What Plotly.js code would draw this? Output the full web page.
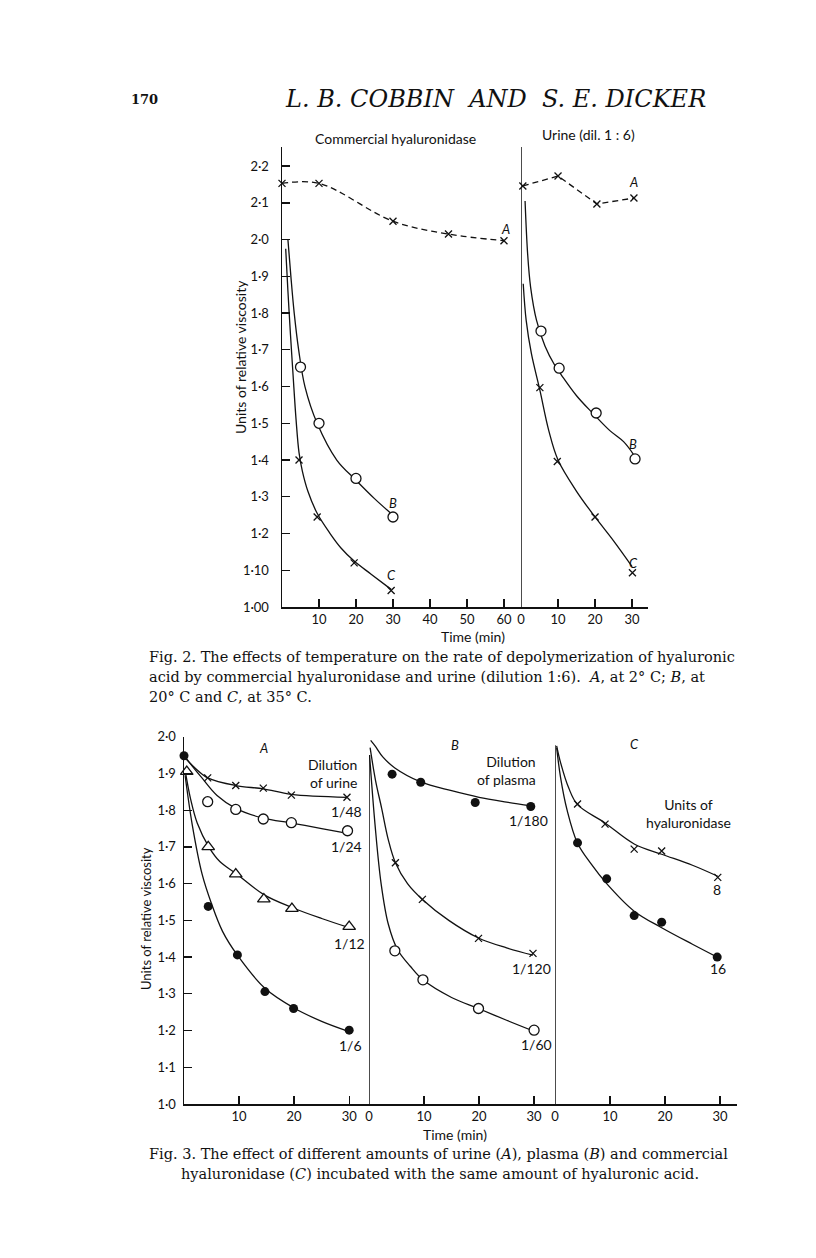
<!DOCTYPE html>
<html>
<head>
<meta charset="utf-8">
<script src="https://cdn.plot.ly/plotly-3.0.1.min.js"></script>
<style>
  html, body { margin: 0; padding: 0; background: #fff; }
  #chart { width: 816px; height: 1258px; }
</style>
</head>
<body>
<div id="chart"></div>
<script>
// ---------------- DATA ----------------
// Fig. 2, left panel: commercial hyaluronidase (time, min; relative viscosity)
const f2L_A_t = [0, 10, 30, 45, 60];
const f2L_A_v = [2.153, 2.153, 2.05, 2.015, 1.997];
const f2L_B_t = [5, 10, 20, 30];
const f2L_B_v = [1.653, 1.50, 1.35, 1.245];
const f2L_Bfit_t = [1.6, 2.4, 3.3, 4.5, 6.2, 9.5, 14.8, 20, 25, 30];
const f2L_Bfit_v = [2.0, 1.9, 1.8, 1.7, 1.6, 1.5, 1.4, 1.345, 1.295, 1.25];
const f2L_C_t = [4.6, 9.5, 19.5, 29.5];
const f2L_C_v = [1.40, 1.245, 1.12, 1.045];
const f2L_Cfit_t = [1.0, 1.6, 2.3, 3.0, 3.8, 4.6, 5.5, 7, 9.5, 13, 16, 19.5, 24, 29.5];
const f2L_Cfit_v = [1.975, 1.86, 1.74, 1.63, 1.51, 1.42, 1.37, 1.315, 1.255, 1.2, 1.16, 1.125, 1.09, 1.048];

// Fig. 2, right panel: urine (dil. 1:6)
const f2R_A_t = [0.5, 10, 20.5, 30.5];
const f2R_A_v = [2.146, 2.173, 2.097, 2.113];
const f2R_B_t = [5.4, 10.3, 20.3, 30.8];
const f2R_B_v = [1.751, 1.65, 1.528, 1.403];
const f2R_Bfit_t = [1.1, 1.8, 2.6, 4.2, 6.5, 9, 11, 15, 19.4, 24, 27.7, 30.4];
const f2R_Bfit_v = [2.105, 1.96, 1.87, 1.78, 1.71, 1.66, 1.63, 1.575, 1.527, 1.48, 1.45, 1.415];
const f2R_C_t = [5.1, 9.8, 20, 30.1];
const f2R_C_v = [1.597, 1.396, 1.245, 1.093];
const f2R_Cfit_t = [0.6, 1.4, 2.8, 5.1, 7.5, 10, 15, 20, 25, 30];
const f2R_Cfit_v = [1.88, 1.78, 1.69, 1.59, 1.48, 1.40, 1.315, 1.245, 1.18, 1.11];

// Fig. 3, panel A: dilution of urine
const f3A_start_t = [0];
const f3A_start_v = [1.948];
const f3A_48_t = [4.3, 9.4, 14.4, 19.5, 29.6];
const f3A_48_v = [1.888, 1.867, 1.86, 1.841, 1.835];
const f3A_48fit_t = [0, 2, 4.3, 9.4, 14.4, 19.5, 29.6];
const f3A_48fit_v = [1.945, 1.915, 1.888, 1.867, 1.858, 1.843, 1.835];
const f3A_24_t = [4.3, 9.4, 14.4, 19.5, 29.7];
const f3A_24_v = [1.823, 1.802, 1.776, 1.766, 1.744];
const f3A_24fit_t = [0.2, 1.5, 3.3, 6, 9.4, 14.4, 19.5, 25, 29.7];
const f3A_24fit_v = [1.945, 1.92, 1.887, 1.84, 1.805, 1.778, 1.765, 1.75, 1.737];
const f3A_12_t = [0.5, 4.4, 9.4, 14.5, 19.6, 30];
const f3A_12_v = [1.905, 1.70, 1.626, 1.558, 1.532, 1.483];
const f3A_12fit_t = [0.3, 1.2, 2.4, 4.5, 6.5, 9.4, 14.5, 19.6, 25, 30];
const f3A_12fit_v = [1.90, 1.83, 1.765, 1.70, 1.66, 1.628, 1.57, 1.535, 1.505, 1.48];
const f3A_6_t = [4.4, 9.7, 14.7, 19.9, 30];
const f3A_6_v = [1.538, 1.406, 1.306, 1.26, 1.201];
const f3A_6fit_t = [0.2, 1.5, 3.3, 5.0, 7, 9.7, 14.7, 19.9, 25, 30];
const f3A_6fit_v = [1.895, 1.76, 1.625, 1.545, 1.47, 1.405, 1.315, 1.262, 1.225, 1.197];

// Fig. 3, panel B: dilution of plasma
const f3B_start_t = [-0.6];
const f3B_start_v = [2.005];
const f3B_180_t = [4.2, 9.4, 19.3, 29.4];
const f3B_180_v = [1.898, 1.876, 1.821, 1.81];
const f3B_180fit_t = [0.3, 1.1, 2.5, 4.7, 9.4, 15, 20, 25, 29.4];
const f3B_180fit_v = [1.99, 1.975, 1.945, 1.915, 1.877, 1.853, 1.835, 1.822, 1.812];
const f3B_120_t = [4.8, 9.7, 19.9, 29.8];
const f3B_120_v = [1.657, 1.557, 1.451, 1.41];
const f3B_120fit_t = [0.2, 1.2, 2.3, 3.5, 4.8, 7, 9.7, 14.5, 19.9, 25, 29.8];
const f3B_120fit_v = [1.97, 1.88, 1.805, 1.72, 1.657, 1.6, 1.557, 1.5, 1.452, 1.425, 1.405];
const f3B_60_t = [4.7, 9.8, 19.9, 30];
const f3B_60_v = [1.417, 1.338, 1.26, 1.201];
const f3B_60fit_t = [0.1, 1.1, 2.2, 3.5, 5.2, 7.5, 9.8, 15, 19.9, 25, 30];
const f3B_60fit_v = [1.95, 1.76, 1.60, 1.49, 1.42, 1.375, 1.338, 1.29, 1.26, 1.228, 1.198];

// Fig. 3, panel C: units of hyaluronidase
const f3C_start_t = [-1];
const f3C_start_v = [1.991];
const f3C_8_t = [4.1, 9.1, 14.4, 19.4, 29.6];
const f3C_8_v = [1.817, 1.762, 1.694, 1.689, 1.617];
const f3C_8fit_t = [0.3, 1, 2.5, 4.1, 9.1, 14.4, 19.4, 25, 29.6];
const f3C_8fit_v = [1.975, 1.93, 1.86, 1.815, 1.765, 1.708, 1.68, 1.65, 1.62];
const f3C_16_t = [4.1, 9.4, 14.4, 19.4, 29.5];
const f3C_16_v = [1.711, 1.613, 1.513, 1.495, 1.40];
const f3C_16fit_t = [0.3, 1, 2.2, 4.1, 6.5, 9.4, 14.4, 19.4, 25, 29.5];
const f3C_16fit_v = [1.97, 1.89, 1.80, 1.71, 1.655, 1.60, 1.525, 1.48, 1.435, 1.40];

// Height of the vertical lines at time 0 in Fig. 3 panels B and C
const f3_panelTop = { B: 1.946, C: 1.977 };

// Tick labels
const f2_yTicks = [1.0, 1.1, 1.2, 1.3, 1.4, 1.5, 1.6, 1.7, 1.8, 1.9, 2.0, 2.1, 2.2];
const f2_yTickText = ['1·00', '1·10', '1·2', '1·3', '1·4', '1·5', '1·6', '1·7', '1·8', '1·9', '2·0', '2·1', '2·2'];
const f2_xLeftTicks = [10, 20, 30, 40, 50, 60];
const f2_xRightTicks = [0, 10, 20, 30];
const f3_yTicks = [1.0, 1.1, 1.2, 1.3, 1.4, 1.5, 1.6, 1.7, 1.8, 1.9, 2.0];
const f3_yTickText = ['1·0', '1·1', '1·2', '1·3', '1·4', '1·5', '1·6', '1·7', '1·8', '1·9', '2·0'];
const f3_xATicks = [10, 20, 30];
const f3_xBCTicks = [0, 10, 20, 30];

// ---------------- DRAWING ----------------
const W = 816, H = 1258;
const px = v => v / W;
const py = v => 1 - v / H;
const SANS = 'Lato, "Open Sans", sans-serif';
const SERIF = '"DejaVu Serif", serif';
const K = '#111';

function fit(x, y, xa, ya, dash, shape) {
  return { x, y, xaxis: xa, yaxis: ya, type: 'scatter', mode: 'lines',
    line: { color: K, width: 1.3, shape: shape || 'spline', smoothing: 1, dash: dash || 'solid' },
    hoverinfo: 'skip' };
}
function pts(x, y, xa, ya, kind, size) {
  let marker;
  if (kind === 'x') {
    marker = { symbol: 'x-thin-open', size: size, color: K, line: { color: K, width: 1.3 } };
  } else if (kind === 'dot') {
    marker = { symbol: 'circle', size: size, color: K, line: { color: K, width: 0 } };
  } else {
    marker = { symbol: kind, size: size, color: '#fff', line: { color: K, width: 1.3 } };
  }
  return { x, y, xaxis: xa, yaxis: ya, type: 'scatter', mode: 'markers', cliponaxis: false,
    marker, hoverinfo: 'skip' };
}
const XM = 'x', CO = 'circle', TR = 'triangle-up', DOT = 'dot';

const traces = [
  // Fig 2 left
  fit(f2L_A_t, f2L_A_v, 'x', 'y', '6px,4px'),
  pts(f2L_A_t, f2L_A_v, 'x', 'y', XM, 7),
  fit(f2L_Bfit_t, f2L_Bfit_v, 'x', 'y'),
  pts(f2L_B_t, f2L_B_v, 'x', 'y', CO, 10),
  fit(f2L_Cfit_t, f2L_Cfit_v, 'x', 'y'),
  pts(f2L_C_t, f2L_C_v, 'x', 'y', XM, 7),
  // Fig 2 right
  fit(f2R_A_t, f2R_A_v, 'x2', 'y', '6px,4px', 'linear'),
  pts(f2R_A_t, f2R_A_v, 'x2', 'y', XM, 7),
  fit(f2R_Bfit_t, f2R_Bfit_v, 'x2', 'y'),
  pts(f2R_B_t, f2R_B_v, 'x2', 'y', CO, 10),
  fit(f2R_Cfit_t, f2R_Cfit_v, 'x2', 'y'),
  pts(f2R_C_t, f2R_C_v, 'x2', 'y', XM, 7),
  // Fig 3 A
  fit(f3A_48fit_t, f3A_48fit_v, 'x3', 'y3'),
  pts(f3A_48_t, f3A_48_v, 'x3', 'y3', XM, 7),
  fit(f3A_24fit_t, f3A_24fit_v, 'x3', 'y3'),
  pts(f3A_24_t, f3A_24_v, 'x3', 'y3', CO, 10),
  fit(f3A_12fit_t, f3A_12fit_v, 'x3', 'y3'),
  pts(f3A_12_t, f3A_12_v, 'x3', 'y3', TR, 11),
  fit(f3A_6fit_t, f3A_6fit_v, 'x3', 'y3'),
  pts(f3A_6_t, f3A_6_v, 'x3', 'y3', DOT, 9),
  pts(f3A_start_t, f3A_start_v, 'x3', 'y3', DOT, 9),
  // Fig 3 B
  fit(f3B_180fit_t, f3B_180fit_v, 'x4', 'y3'),
  pts(f3B_180_t, f3B_180_v, 'x4', 'y3', DOT, 9),
  fit(f3B_120fit_t, f3B_120fit_v, 'x4', 'y3'),
  pts(f3B_120_t, f3B_120_v, 'x4', 'y3', XM, 7),
  fit(f3B_60fit_t, f3B_60fit_v, 'x4', 'y3'),
  pts(f3B_60_t, f3B_60_v, 'x4', 'y3', CO, 10),
  pts(f3B_start_t, f3B_start_v, 'x4', 'y3', DOT, 9),
  // Fig 3 C
  fit(f3C_8fit_t, f3C_8fit_v, 'x5', 'y3'),
  pts(f3C_8_t, f3C_8_v, 'x5', 'y3', XM, 7),
  fit(f3C_16fit_t, f3C_16fit_v, 'x5', 'y3'),
  pts(f3C_16_t, f3C_16_v, 'x5', 'y3', DOT, 9),
  pts(f3C_start_t, f3C_start_v, 'x5', 'y3', DOT, 9),
];

const axBase = {
  showgrid: false, zeroline: false, showline: true, linecolor: K, linewidth: 1.5,
  ticks: 'inside', ticklen: 8, tickwidth: 1.3, tickcolor: K,
  tickfont: { family: SANS, size: 13, color: K }, fixedrange: true, layer: 'above traces'
};
const ax = o => Object.assign({}, axBase, o);

const f2Bottom = 607, f2Top = 147, f3Bottom = 1104, f3Top = 736.7;

const layout = {
  width: W, height: H, margin: { l: 0, r: 0, t: 0, b: 0 },
  paper_bgcolor: '#fff', plot_bgcolor: 'rgba(0,0,0,0)', showlegend: false,
  font: { family: SANS, color: K },
  xaxis: ax({ domain: [px(282), px(521)], range: [0, 64.6], anchor: 'y',
    tickmode: 'array', tickvals: f2_xLeftTicks, ticktext: f2_xLeftTicks.map(String), ticklabelstandoff: 0 }),
  xaxis2: ax({ domain: [px(521), px(648)], range: [0, 34.3], anchor: 'y',
    tickmode: 'array', tickvals: f2_xRightTicks, ticktext: f2_xRightTicks.map(String), ticklabelstandoff: 0 }),
  yaxis: ax({ domain: [py(f2Bottom), py(f2Top)], range: [1.0, 2.252], anchor: 'x',
    tickmode: 'array', tickvals: f2_yTicks, ticktext: f2_yTickText, ticklabelstandoff: 9 }),
  xaxis3: ax({ domain: [px(184), px(369)], range: [0, 33.6], anchor: 'y3',
    tickmode: 'array', tickvals: f3_xATicks, ticktext: f3_xATicks.map(String), ticklabelstandoff: 0 }),
  xaxis4: ax({ domain: [px(369), px(555)], range: [0, 33.8], anchor: 'y3',
    tickmode: 'array', tickvals: f3_xBCTicks, ticktext: f3_xBCTicks.map(String), ticklabelstandoff: 0 }),
  xaxis5: ax({ domain: [px(555), px(737)], range: [0, 33.1], anchor: 'y3',
    tickmode: 'array', tickvals: f3_xBCTicks, ticktext: f3_xBCTicks.map(String), ticklabelstandoff: 0 }),
  yaxis3: ax({ domain: [py(f3Bottom), py(f3Top)], range: [1.0, 2.0], anchor: 'x3',
    tickmode: 'array', tickvals: f3_yTicks, ticktext: f3_yTickText, ticklabelstandoff: 4 }),
  shapes: [
    { type: 'line', xref: 'x2', yref: 'y domain', x0: 0, x1: 0, y0: 0, y1: 1,
      line: { color: K, width: 1.5 } },
    { type: 'line', xref: 'x4', yref: 'y3', x0: 0, x1: 0, y0: 1.0, y1: f3_panelTop.B,
      line: { color: K, width: 1.5 } },
    { type: 'line', xref: 'x5', yref: 'y3', x0: 0, x1: 0, y0: 1.0, y1: f3_panelTop.C,
      line: { color: K, width: 1.5 } },
  ],
  annotations: []
};

const A = layout.annotations;
function note(text, x, y, xref, yref, opts) {
  A.push(Object.assign({ text, x, y, xref, yref, showarrow: false,
    font: { family: SANS, size: 14, color: K }, xanchor: 'center', yanchor: 'middle' }, opts || {}));
}
const lbl = { family: SANS, size: 13, color: K };

// Page header
note('<b>170</b>', px(129), py(99), 'paper', 'paper', { xanchor: 'left', font: { family: SERIF, size: 13, color: K } });
note('<i>L. B. COBBIN  AND  S. E. DICKER</i>', px(496), py(99), 'paper', 'paper', { font: { family: SERIF, size: 24, color: K } });

// Fig 2 texts
note('Commercial hyaluronidase', px(395), py(139), 'paper', 'paper');
note('Urine (dil. 1 : 6)', px(588), py(135), 'paper', 'paper');
note('Time (min)', px(473), py(636), 'paper', 'paper');
note('Units of relative viscosity', px(240), py(357), 'paper', 'paper', { textangle: -90 });
note('<i>A</i>', 60.3, 2.03, 'x', 'y', { font: lbl });
note('<i>B</i>', 30, 1.283, 'x', 'y', { font: lbl });
note('<i>C</i>', 29.7, 1.087, 'x', 'y', { font: lbl });
note('<i>A</i>', 30.3, 2.156, 'x2', 'y', { font: lbl });
note('<i>B</i>', 30.3, 1.444, 'x2', 'y', { font: lbl });
note('<i>C</i>', 30.3, 1.12, 'x2', 'y', { font: lbl });

// Fig 2 caption
const capFont = { family: SERIF, size: 14.5, color: K };
note('Fig. 2. The effects of temperature on the rate of depolymerization of hyaluronic', px(147), py(657), 'paper', 'paper', { xanchor: 'left', font: capFont });
note('acid by commercial hyaluronidase and urine (dilution 1:6).  <i>A</i>, at 2° C; <i>B</i>, at', px(147), py(677), 'paper', 'paper', { xanchor: 'left', font: capFont });
note('20° C and <i>C</i>, at 35° C.', px(147), py(697), 'paper', 'paper', { xanchor: 'left', font: capFont });

// Fig 3 texts
note('Units of relative viscosity', px(146), py(919), 'paper', 'paper', { textangle: -90, font: lbl });
note('Time (min)', px(455), py(1134), 'paper', 'paper');
note('<i>A</i>', 14.4, 1.968, 'x3', 'y3', { font: lbl });
note('Dilution<br>of urine', 31.8, 1.90, 'x3', 'y3', { xanchor: 'right', align: 'right' });
note('1/48', 29.6, 1.796, 'x3', 'y3');
note('1/24', 29.6, 1.70, 'x3', 'y3');
note('1/12', 30.0, 1.438, 'x3', 'y3');
note('1/6', 30.2, 1.16, 'x3', 'y3');
note('<i>B</i>', 15.6, 1.977, 'x4', 'y3', { font: lbl });
note('Dilution<br>of plasma', 30.8, 1.909, 'x4', 'y3', { xanchor: 'right', align: 'right' });
note('1/180', 28.9, 1.773, 'x4', 'y3');
note('1/120', 29.6, 1.37, 'x4', 'y3');
note('1/60', 30.5, 1.163, 'x4', 'y3');
note('<i>C</i>', 14.4, 1.98, 'x5', 'y3', { font: lbl });
note('Units of<br>hyaluronidase', 24.2, 1.79, 'x5', 'y3', { align: 'center' });
note('8', 29.4, 1.585, 'x5', 'y3');
note('16', 29.7, 1.37, 'x5', 'y3');

// Fig 3 caption
note('Fig. 3. The effect of different amounts of urine (<i>A</i>), plasma (<i>B</i>) and commercial', px(147), py(1154), 'paper', 'paper', { xanchor: 'left', font: capFont });
note('hyaluronidase (<i>C</i>) incubated with the same amount of hyaluronic acid.', px(440), py(1174), 'paper', 'paper', { font: capFont });

Plotly.newPlot('chart', traces, layout, { staticPlot: true, displayModeBar: false });
</script>
</body>
</html>
